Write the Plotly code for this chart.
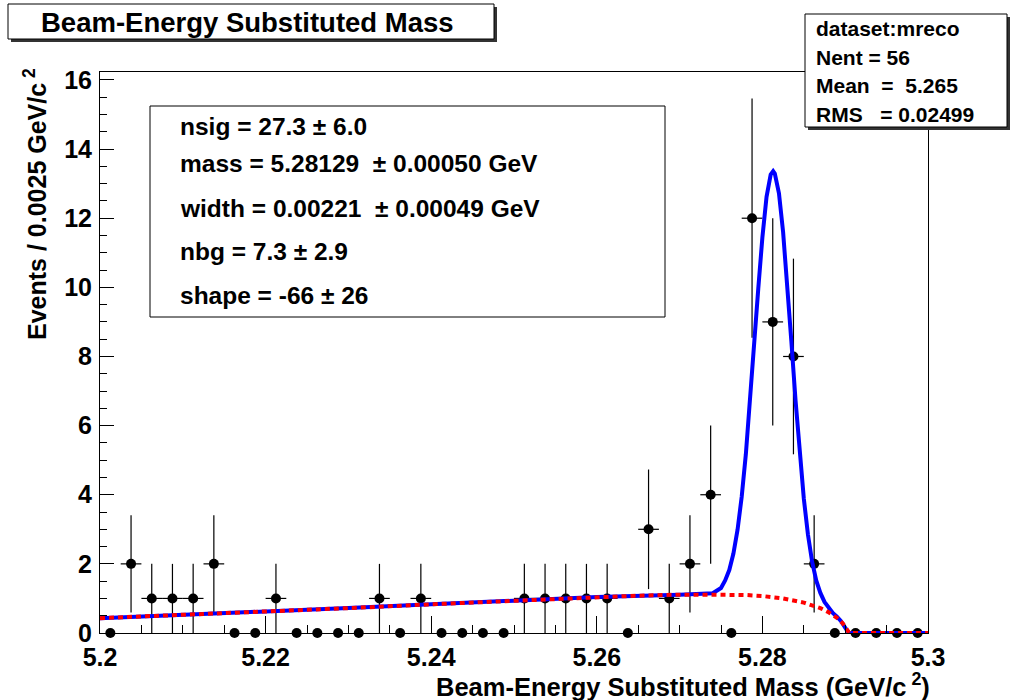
import plotly.graph_objects as go

# ---------------- data ----------------
bin_centers = [5.20125, 5.20375, 5.20625, 5.20875, 5.21125, 5.21375, 5.21625, 5.21875,
               5.22125, 5.22375, 5.22625, 5.22875, 5.23125, 5.23375, 5.23625, 5.23875,
               5.24125, 5.24375, 5.24625, 5.24875, 5.25125, 5.25375, 5.25625, 5.25875,
               5.26125, 5.26375, 5.26625, 5.26875, 5.27125, 5.27375, 5.27625, 5.27875,
               5.28125, 5.28375, 5.28625, 5.28875, 5.29125, 5.29375, 5.29625, 5.29875]
counts = [0, 2, 1, 1, 1, 2, 0, 0, 1, 0, 0, 0, 0, 1, 0, 1, 0, 0, 0, 0,
          1, 1, 1, 1, 1, 0, 3, 1, 2, 4, 0, 12, 9, 8, 2, 0, 0, 0, 0, 0]
count_err = [0, 1.41, 1, 1, 1, 1.41, 0, 0, 1, 0, 0, 0, 0, 1, 0, 1, 0, 0, 0, 0,
             1, 1, 1, 1, 1, 0, 1.73, 1, 1.41, 2, 0, 3.46, 3, 2.83, 1.41, 0, 0, 0, 0, 0]

# total fit curve (blue)
total_x = [5.200, 5.210, 5.220, 5.230, 5.240, 5.250, 5.260, 5.270, 5.273, 5.274,
           5.275, 5.2755, 5.276, 5.2765, 5.277, 5.2775, 5.278, 5.2785, 5.279, 5.2795,
           5.280, 5.2805, 5.281, 5.2813, 5.2815, 5.282, 5.2825, 5.283, 5.2835, 5.284,
           5.2845, 5.285, 5.2855, 5.286, 5.2865, 5.287, 5.2875, 5.288, 5.2885, 5.289,
           5.2895, 5.2902, 5.2905, 5.300]
total_y = [0.43, 0.52, 0.62, 0.72, 0.83, 0.94, 1.04, 1.11, 1.12, 1.15,
           1.30, 1.52, 1.82, 2.30, 2.99, 3.94, 5.17, 6.65, 8.29, 9.96,
           11.45, 12.62, 13.26, 13.36, 13.29, 12.72, 11.60, 10.11, 8.43, 6.74,
           5.20, 3.89, 2.85, 2.07, 1.52, 1.16, 0.90, 0.72, 0.58, 0.47,
           0.34, 0.08, 0.0, 0.0]

# background curve (red dashed)
bkg_x = [5.200, 5.210, 5.220, 5.230, 5.240, 5.250, 5.255, 5.260, 5.265, 5.270,
         5.275, 5.278, 5.280, 5.2825, 5.285, 5.287, 5.288, 5.289, 5.2897, 5.2902,
         5.2905, 5.300]
bkg_y = [0.43, 0.52, 0.62, 0.72, 0.83, 0.94, 0.99, 1.04, 1.08, 1.11,
         1.12, 1.10, 1.07, 1.00, 0.88, 0.72, 0.60, 0.44, 0.28, 0.08,
         0.0, 0.0]

title_text = "Beam-Energy Substituted Mass"
x_title = "Beam-Energy Substituted Mass (GeV/c<sup> 2</sup>)"
y_title = "Events / 0.0025 GeV/c<sup> 2</sup>"
stats_lines = ["dataset:mreco", "Nent = 56", "Mean  =  5.265", "RMS   = 0.02499"]
param_lines = ["nsig = 27.3 \u00b1 6.0",
               "mass = 5.28129  \u00b1 0.00050 GeV",
               "width = 0.00221  \u00b1 0.00049 GeV",
               "nbg = 7.3 \u00b1 2.9",
               "shape = -66 \u00b1 26"]

# ---------------- layout geometry ----------------
W, H = 1010, 700
L, R, T, B = 100, 82, 72, 67
PW, PH = W - L - R, H - T - B
FONT = "Liberation Sans, Arial, Helvetica, sans-serif"


def px(x):
    return (x - L) / PW


def py(y):
    return (H - B - y) / PH


half_bin = 0.00125
xerr = [half_bin if c > 0 else 0 for c in counts]

fig = go.Figure()
fig.add_trace(go.Scatter(
    x=bin_centers, y=counts, mode="markers",
    marker=dict(color="black", size=10, symbol="circle"),
    error_y=dict(type="data", array=count_err, visible=True, color="black",
                 thickness=1.2, width=0),
    error_x=dict(type="data", array=xerr, visible=True, color="black",
                 thickness=1.2, width=0),
    showlegend=False, cliponaxis=False))
fig.add_trace(go.Scatter(
    x=total_x, y=total_y, mode="lines",
    line=dict(color="#0000ff", width=4), showlegend=False))
fig.add_trace(go.Scatter(
    x=bkg_x, y=bkg_y, mode="lines",
    line=dict(color="#ff0000", width=4, dash="5px,4px"), showlegend=False))

shapes = []
# title box with shadow
shapes.append(dict(type="rect", xref="paper", yref="paper",
                   x0=px(11), x1=px(497), y0=py(42), y1=py(7),
                   fillcolor="#333333", line=dict(width=0), layer="above"))
shapes.append(dict(type="rect", xref="paper", yref="paper",
                   x0=px(8), x1=px(494), y0=py(39), y1=py(4),
                   fillcolor="white", line=dict(color="black", width=1), layer="above"))
# stats box with shadow
shapes.append(dict(type="rect", xref="paper", yref="paper",
                   x0=px(808), x1=px(1012), y0=py(130), y1=py(17),
                   fillcolor="#333333", line=dict(width=0), layer="above"))
shapes.append(dict(type="rect", xref="paper", yref="paper",
                   x0=px(805), x1=px(1007), y0=py(127), y1=py(14),
                   fillcolor="white", line=dict(color="black", width=1), layer="above"))
# parameter box
shapes.append(dict(type="rect", xref="paper", yref="paper",
                   x0=px(150), x1=px(665), y0=py(317), y1=py(106),
                   fillcolor="white", line=dict(color="black", width=1), layer="above"))

ann = []
ann.append(dict(text=title_text, xref="paper", yref="paper", x=px(247), y=py(22),
                xanchor="center", yanchor="middle", showarrow=False,
                font=dict(size=27.5, color="black", family=FONT, weight="bold")))
for i, s in enumerate(stats_lines):
    ann.append(dict(text=s, xref="paper", yref="paper", x=px(814), y=py(29 + i * 28.5),
                    xanchor="left", yanchor="middle", showarrow=False,
                    font=dict(size=21, color="black", family=FONT, weight="bold")))
param_y = [126, 164, 208, 251, 295]
for s, yy in zip(param_lines, param_y):
    ann.append(dict(text=s, xref="paper", yref="paper", x=px(178), y=py(yy),
                    xanchor="left", yanchor="middle", showarrow=False,
                    font=dict(size=24.5, color="black", family=FONT, weight="bold")))
ann.append(dict(text=x_title, xref="paper", yref="paper", x=px(932), y=py(685),
                xanchor="right", yanchor="middle", showarrow=False,
                font=dict(size=25.5, color="black", family=FONT, weight="bold")))
ann.append(dict(text=y_title, xref="paper", yref="paper", x=px(35), y=py(66),
                xanchor="center", yanchor="top", showarrow=False, textangle=-90,
                font=dict(size=25, color="black", family=FONT, weight="bold")))

fig.update_layout(
    width=W, height=H,
    margin=dict(l=L, r=R, t=T, b=B, pad=0),
    paper_bgcolor="white", plot_bgcolor="white",
    font=dict(family=FONT, color="black", weight="bold"),
    shapes=shapes, annotations=ann,
    xaxis=dict(range=[5.2, 5.3], dtick=0.02, tick0=5.2, ticks="inside", ticklen=17,
               tickwidth=1, tickcolor="black", showline=True, linecolor="black",
               linewidth=1, mirror=True, showgrid=False, zeroline=False,
               tickfont=dict(size=25, family=FONT, weight="bold"),
               ticklabelstandoff=2,
               minor=dict(dtick=0.005, ticks="inside", ticklen=8, tickcolor="black",
                          showgrid=False)),
    yaxis=dict(range=[0, 16.23], dtick=2, tick0=0, ticks="inside", ticklen=14,
               tickwidth=1, tickcolor="black", showline=True, linecolor="black",
               linewidth=1, mirror=True, showgrid=False, zeroline=False,
               tickfont=dict(size=25, family=FONT, weight="bold"),
               ticklabelstandoff=2,
               minor=dict(dtick=0.5, ticks="inside", ticklen=7, tickcolor="black",
                          showgrid=False)),
)

fig.write_html("out.html")
